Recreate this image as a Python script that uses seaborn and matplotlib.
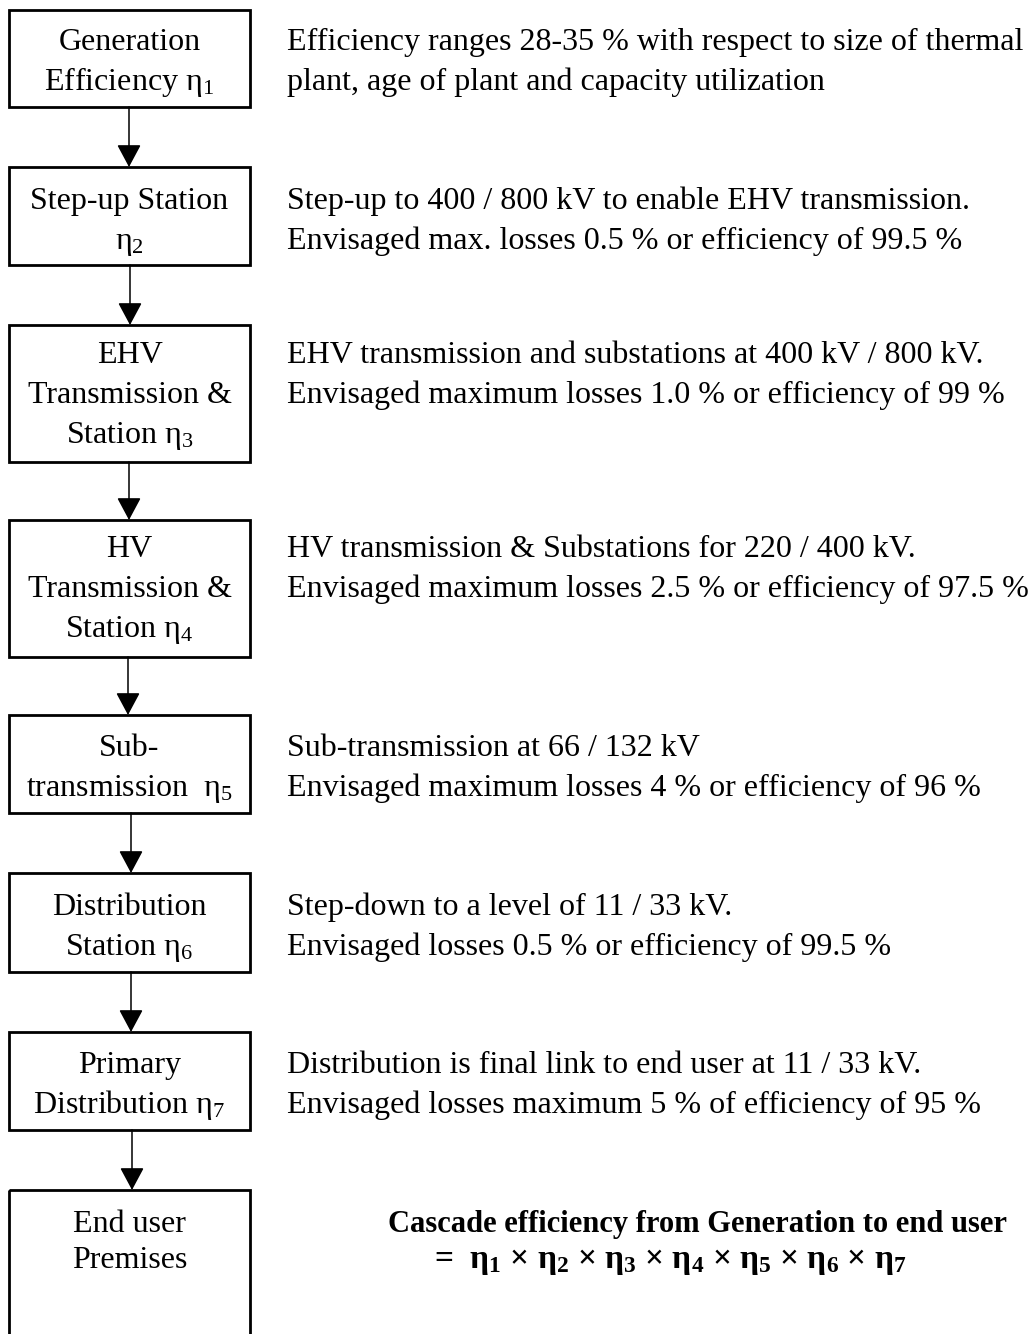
import matplotlib

matplotlib.use("Agg")

import matplotlib.pyplot as plt
import seaborn as sns
from matplotlib.patches import Rectangle

# stage boxes (left column), one string per text line
STAGE_LINES = [
    ["Generation", r"Efficiency $\mathrm{η}_1$"],
    ["Step-up Station", r"$\mathrm{η}_2$"],
    ["EHV", "Transmission &", r"Station $\mathrm{η}_3$"],
    ["HV", "Transmission &", r"Station $\mathrm{η}_4$"],
    ["Sub-", r"transmission  $\mathrm{η}_5$"],
    ["Distribution", r"Station $\mathrm{η}_6$"],
    ["Primary", r"Distribution $\mathrm{η}_7$"],
    ["End user", "Premises"],
]

# notes (right column)
NOTE_LINES = [
    ["Efficiency ranges 28-35 % with respect to size of thermal",
     "plant, age of plant and capacity utilization"],
    ["Step-up to 400 / 800 kV to enable EHV transmission.",
     "Envisaged max. losses 0.5 % or efficiency of 99.5 %"],
    ["EHV transmission and substations at 400 kV / 800 kV.",
     "Envisaged maximum losses 1.0 % or efficiency of 99 %"],
    ["HV transmission & Substations for 220 / 400 kV.",
     "Envisaged maximum losses 2.5 % or efficiency of 97.5 %"],
    ["Sub-transmission at 66 / 132 kV",
     "Envisaged maximum losses 4 % or efficiency of 96 %"],
    ["Step-down to a level of 11 / 33 kV.",
     "Envisaged losses 0.5 % or efficiency of 99.5 %"],
    ["Distribution is final link to end user at 11 / 33 kV.",
     "Envisaged losses maximum 5 % of efficiency of 95 %"],
]

SUMMARY_TITLE = "Cascade efficiency from Generation to end user"
SUMMARY_FORMULA = "=  " + " × ".join(r"$\mathbf{η}_\mathbf{%d}$" % i for i in range(1, 8))

# layout in pixels (figure is 1031 x 1334)
BOX_LEFT, BOX_RIGHT = 9, 250
BOX_TOPS = [10, 167, 325, 520, 715, 873, 1032, 1190]
BOX_BOTTOMS = [107, 265, 462, 657, 813, 972, 1130, 1345]
FIRST_BASELINES = [50, 209, 363, 557, 756, 915, 1073, 1232]
ARROW_X = [129, 130, 129, 128, 131, 131, 132]
LINE_GAP = 40
LAST_GAP = 36
NOTE_X = 287
FONT_SIZE = 23


def main() -> None:
    sns.set_theme(style="white")
    plt.rcParams["font.family"] = ["Liberation Serif", "DejaVu Serif"]
    plt.rcParams["mathtext.fontset"] = "custom"
    plt.rcParams["mathtext.rm"] = "Liberation Serif"
    plt.rcParams["mathtext.it"] = "Liberation Serif:italic"
    plt.rcParams["mathtext.bf"] = "Liberation Serif:bold"

    fig = plt.figure(figsize=(10.31, 13.34), dpi=100)
    ax = fig.add_axes([0, 0, 1, 1])
    ax.set_xlim(0, 1031)
    ax.set_ylim(1334, 0)
    ax.axis("off")

    box_cx = (BOX_LEFT + BOX_RIGHT) / 2
    n_boxes = len(STAGE_LINES)
    for k, (lines, top, bottom, y0) in enumerate(
            zip(STAGE_LINES, BOX_TOPS, BOX_BOTTOMS, FIRST_BASELINES)):
        gap = LAST_GAP if k == n_boxes - 1 else LINE_GAP
        ax.add_patch(Rectangle((BOX_LEFT, top), BOX_RIGHT - BOX_LEFT, bottom - top,
                               fill=False, edgecolor="black", linewidth=2.0))
        for i, line in enumerate(lines):
            ax.text(box_cx, y0 + i * gap, line, ha="center", va="baseline",
                    fontsize=FONT_SIZE, color="black")

    for lines, y0 in zip(NOTE_LINES, FIRST_BASELINES):
        for i, line in enumerate(lines):
            ax.text(NOTE_X, y0 + i * LINE_GAP, line, ha="left", va="baseline",
                    fontsize=FONT_SIZE, color="black")

    for x, start, end in zip(ARROW_X, BOX_BOTTOMS[:-1], BOX_TOPS[1:]):
        ax.annotate("", xy=(x, end), xytext=(x, start),
                    arrowprops=dict(arrowstyle="-|>,head_length=14,head_width=7.5",
                                    color="black", linewidth=1.1,
                                    shrinkA=0, shrinkB=0, mutation_scale=1))

    ax.text(697, FIRST_BASELINES[-1], SUMMARY_TITLE, ha="center", va="baseline",
            fontsize=22, fontweight="bold", color="black")
    ax.text(670, FIRST_BASELINES[-1] + LAST_GAP, SUMMARY_FORMULA, ha="center",
            va="baseline", fontsize=24, fontweight="bold", color="black")

    fig.savefig("out.png", dpi=100, facecolor="white")
    plt.close(fig)


if __name__ == "__main__":
    main()
